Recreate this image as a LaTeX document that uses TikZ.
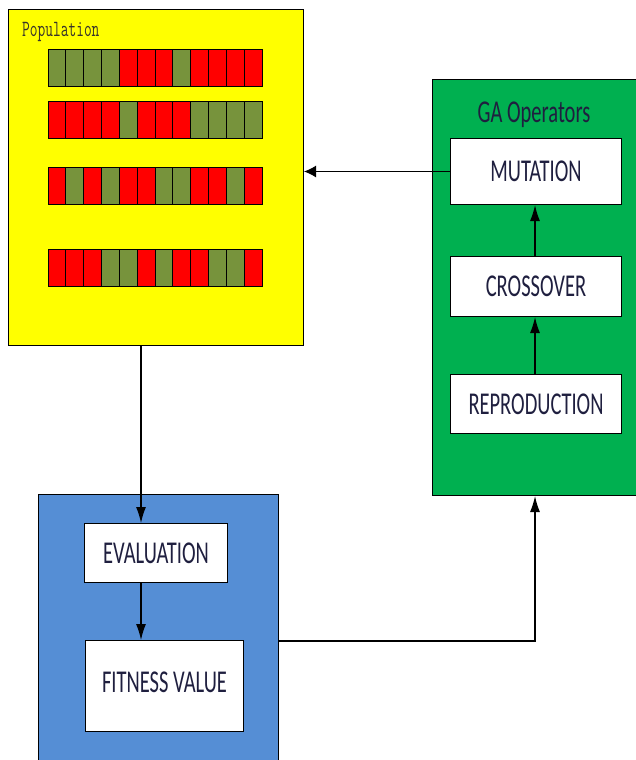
\documentclass[tikz,border=0pt]{standalone}
\usepackage{fontspec}
\setmainfont{Carlito}
\usetikzlibrary{arrows.meta,calc}
\definecolor{popyellow}{HTML}{FFFF00}
\definecolor{opgreen}{HTML}{00B050}
\definecolor{evblue}{HTML}{558ED5}
\definecolor{geneg}{HTML}{77933C}
\definecolor{gener}{HTML}{FF0000}
\definecolor{txt}{HTML}{1F1F3F}
\newcommand\vstretch[1]{\scalebox{1}[1.55]{#1}}
\begin{document}
\begin{tikzpicture}[x=1pt,y=-1pt,
  panel/.style={draw=black, line width=1pt, anchor=north west, inner sep=0pt},
  opbox/.style={draw=black, fill=white, line width=1pt, anchor=north west, inner sep=0pt, text=txt, font=\fontsize{20.5}{24}\selectfont},
  arrv/.style={draw=black, line width=1.3pt, -{Latex[length=16pt,width=10pt]}},
  arrh/.style={draw=black, line width=1.3pt, -{Latex[length=12pt,width=12pt]}},
  gene/.style={draw=black, line width=0.8pt}]
\useasboundingbox (0,0) rectangle (635,760);
% panels
\node[panel, fill=popyellow, minimum width=295pt, minimum height=336pt] (pop) at (8,9) {};
\node[panel, fill=opgreen, minimum width=205pt, minimum height=416pt] (ops) at (432,79) {};
\node[panel, fill=evblue, minimum width=240pt, minimum height=268pt] (evp) at (38,494) {};
% population label
\node[anchor=west, inner sep=0pt, text=black!80!olive, font=\ttfamily\fontsize{15}{16}\selectfont] (poplabel) at (22,32) {\vstretch{Population}};
% chromosomes
\foreach \yy/\seq in {49/{g,g,g,g,r,r,r,g,r,r,r,r}, 101/{r,r,r,r,g,r,r,r,g,g,g,g}, 167/{r,g,r,g,r,r,g,g,r,r,g,r}, 249/{r,r,r,g,g,r,g,r,r,g,g,r}}{
  \foreach \c [count=\i from 0] in \seq {
    \draw[gene, fill=gene\c] ({48+\i*17.83}, \yy) rectangle +(17.83, 37);
  }
}
% GA operators
\node[text=txt, font=\fontsize{20.5}{24}\selectfont, inner sep=0pt] (gatitle) at (534,115) {\vstretch{GA Operators}};
\node[opbox, minimum width=171pt, minimum height=66pt] (mut) at (450,138) {\raisebox{-3pt}{\vstretch{MUTATION}}};
\node[opbox, minimum width=171pt, minimum height=60pt] (cross) at (450,256) {\raisebox{-7pt}{\vstretch{CROSSOVER}}};
\node[opbox, minimum width=171pt, minimum height=59pt] (repro) at (450,374) {\raisebox{-8pt}{\vstretch{REPRODUCTION}}};
% evaluation
\node[opbox, minimum width=143pt, minimum height=59pt] (eval) at (84,523) {\raisebox{-6pt}{\vstretch{EVALUATION}}};
\node[opbox, minimum width=158pt, minimum height=91pt] (fit) at (85,640) {\raisebox{7pt}{\vstretch{FITNESS VALUE}}};
% connectors
\coordinate (ax) at (141,0);
\coordinate (bx) at (535,0);
\coordinate (fy) at (0,641);
\draw[arrh] (mut.west) -- (pop.east |- mut.west);
\draw[arrv] (cross.north -| bx) -- (mut.south -| bx);
\draw[arrv] (repro.north -| bx) -- (cross.south -| bx);
\draw[arrv] (pop.south -| ax) -- (eval.north -| ax);
\draw[arrv] (eval.south -| ax) -- (fit.north -| ax);
\draw[arrv] (evp.east |- fy) -| (ops.south -| bx);
\end{tikzpicture}
\end{document}
